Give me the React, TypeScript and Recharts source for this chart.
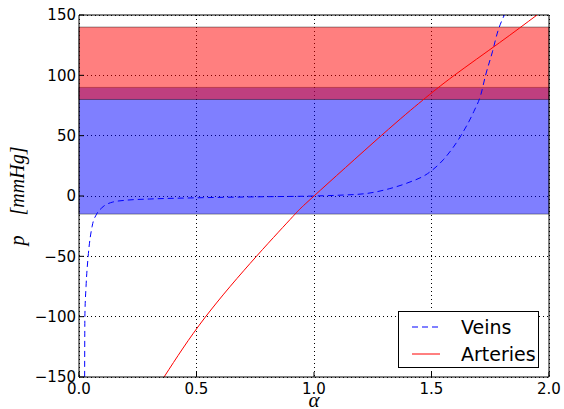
import { CartesianGrid, Label, Legend, Line, LineChart, ReferenceArea, ReferenceLine, XAxis, YAxis } from 'recharts'

// tube law samples (alpha = area ratio, p in mmHg)
const veins = [
  { a: 0.024, p: -150 },
  { a: 0.025, p: -100 },
  { a: 0.03, p: -75 },
  { a: 0.039, p: -50 },
  { a: 0.056, p: -25 },
  { a: 0.075, p: -15 },
  { a: 0.096, p: -10 },
  { a: 0.144, p: -5 },
  { a: 0.2, p: -3.5 },
  { a: 0.3, p: -2.5 },
  { a: 0.5, p: -1.5 },
  { a: 0.75, p: -0.7 },
  { a: 1.0, p: 0 },
  { a: 1.1, p: 0.6 },
  { a: 1.22, p: 2 },
  { a: 1.32, p: 6 },
  { a: 1.4, p: 11 },
  { a: 1.483, p: 18.5 },
  { a: 1.55, p: 30 },
  { a: 1.625, p: 50 },
  { a: 1.68, p: 70 },
  { a: 1.71, p: 84 },
  { a: 1.73, p: 100 },
  { a: 1.76, p: 120 },
  { a: 1.78, p: 135 },
  { a: 1.81, p: 150 },
]

const arteries = [
  { a: 0.362, p: -150 },
  { a: 0.535, p: -101 },
  { a: 0.755, p: -50 },
  { a: 0.91, p: -17 },
  { a: 1.0, p: 0 },
  { a: 1.286, p: 50 },
  { a: 1.46, p: 79 },
  { a: 1.597, p: 100 },
  { a: 1.789, p: 127 },
  { a: 1.949, p: 150 },
]

const xTicks = [0, 0.5, 1, 1.5, 2]
const yTicks = [-150, -100, -50, 0, 50, 100, 150]

// physiological pressure ranges
const venousRange = [-15, 90]
const arterialRange = [80, 140]

const legendItems = [
  { name: 'Veins', color: '#0000ff', dash: '6 4' },
  { name: 'Arteries', color: '#ff0000', dash: undefined },
]

function LegendBox() {
  return (
    <div
      style={{
        width: 139,
        height: 55,
        border: '1px solid #000',
        background: '#fff',
        fontFamily: 'DejaVu Sans',
        fontSize: 19,
      }}
    >
      {legendItems.map((it, i) => (
        <div key={it.name} style={{ display: 'flex', alignItems: 'center', height: 27, marginTop: i === 0 ? 1 : 0 }}>
          <svg width={58} height={10} style={{ marginLeft: 4 }}>
            <line x1={9} x2={37} y1={5} y2={5} stroke={it.color} strokeWidth={1} strokeDasharray={it.dash} />
          </svg>
          <span>{it.name}</span>
        </div>
      ))}
    </div>
  )
}

const fmtY = (v: number) => String(v).replace('-', '\u2212')

const mathFont = { fontFamily: 'Liberation Serif', fontStyle: 'italic' as const, fill: '#000' }

export default function App() {
  return (
    <div style={{ position: 'absolute', left: 0, top: 0 }}>
      <LineChart
        width={564}
        height={409}
        margin={{ top: 15, right: 15, bottom: 0, left: 0 }}
        style={{ fontFamily: 'DejaVu Sans', fontSize: 15 }}
      >
        <CartesianGrid
          xAxisId="b"
          yAxisId="l"
          stroke="#000"
          strokeDasharray="1 3"
          strokeWidth={1}
          shapeRendering="crispEdges"
        />
        <XAxis
          xAxisId="b"
          type="number"
          dataKey="a"
          domain={[0, 2]}
          ticks={xTicks}
          allowDataOverflow
          tickFormatter={(v: number) => v.toFixed(1)}
          height={32}
          tickSize={-5}
          tickMargin={11}
          axisLine={{ stroke: '#000' }}
          tickLine={{ stroke: '#000' }}
          tick={{ fill: '#000' }}
        >
          <Label
            content={({ viewBox }: any) => (
              <text x={viewBox.x + viewBox.width / 2} y={407} textAnchor="middle" fontSize={21} {...mathFont}>
                α
              </text>
            )}
          />
        </XAxis>
        <YAxis
          yAxisId="l"
          type="number"
          domain={[-150, 150]}
          ticks={yTicks}
          allowDataOverflow
          width={79}
          tickSize={-5}
          tickMargin={8}
          tickFormatter={fmtY}
          axisLine={{ stroke: '#000' }}
          tickLine={{ stroke: '#000' }}
          tick={{ fill: '#000' }}
        >
          <Label
            content={({ viewBox }: any) => {
              const cy = viewBox.y + viewBox.height / 2
              return (
                <text
                  x={24}
                  y={cy}
                  transform={`rotate(-90 24 ${cy})`}
                  textAnchor="middle"
                  fontSize={20}
                  style={{ whiteSpace: 'pre' }}
                  {...mathFont}
                >
                  {'p    [mmHg]'}
                </text>
              )
            }}
          />
        </YAxis>
        <ReferenceArea
          xAxisId="b"
          yAxisId="l"
          y1={venousRange[0]}
          y2={venousRange[1]}
          fill="#0000ff"
          fillOpacity={0.5}
          stroke="#000"
          strokeOpacity={0.4}
        />
        <ReferenceArea
          xAxisId="b"
          yAxisId="l"
          y1={arterialRange[0]}
          y2={arterialRange[1]}
          fill="#ff0000"
          fillOpacity={0.5}
          stroke="#000"
          strokeOpacity={0.4}
        />
        <ReferenceLine xAxisId="b" yAxisId="l" y={150} stroke="#000" />
        <ReferenceLine xAxisId="b" yAxisId="l" x={2} stroke="#000" />
        <Line
          xAxisId="b"
          yAxisId="l"
          data={veins}
          dataKey="p"
          name="Veins"
          type="monotone"
          stroke="#0000ff"
          strokeWidth={1}
          strokeDasharray="6 4"
          dot={false}
          isAnimationActive={false}
        />
        <Line
          xAxisId="b"
          yAxisId="l"
          data={arteries}
          dataKey="p"
          name="Arteries"
          type="natural"
          stroke="#ff0000"
          strokeWidth={1}
          dot={false}
          isAnimationActive={false}
        />
        <Legend
          layout="horizontal"
          verticalAlign="middle"
          align="center"
          content={() => <LegendBox />}
          wrapperStyle={{ left: 398, top: 311, width: 141, height: 57 }}
        />
      </LineChart>
    </div>
  )
}
